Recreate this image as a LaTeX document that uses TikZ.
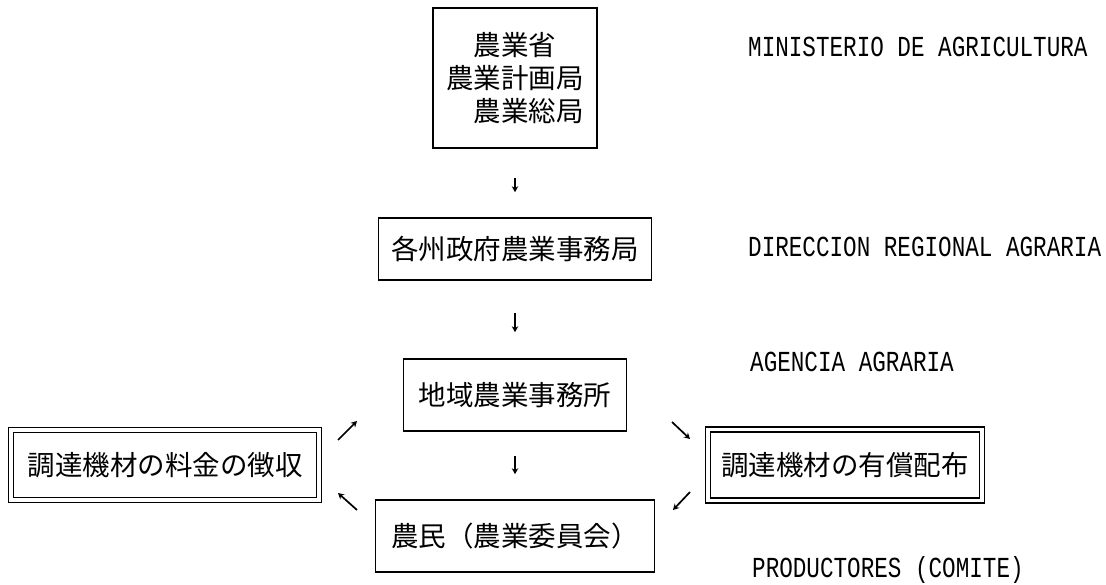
\documentclass[tikz,border=0pt]{standalone}
\usepackage{fontspec}
\newfontfamily\cjk{Noto Sans CJK JP}
\newfontfamily\lat[FakeStretch=0.78]{Liberation Mono}
\usetikzlibrary{arrows.meta}
\begin{document}
\begin{tikzpicture}[x=1pt,y=-1pt,
  cjkfont/.style={font=\cjk\fontsize{27.5}{33}\selectfont},
  box/.style={draw, line width=1.6pt, inner sep=0pt, cjkfont},
  dbox/.style={draw, double, double distance=3.5pt, line width=1.3pt, inner sep=0pt, cjkfont},
  lab/.style={anchor=west, inner sep=0pt, font=\lat\fontsize{29}{32}\selectfont},
  arr/.style={-{Stealth[length=6pt,width=6.5pt]}, line width=1.7pt}]
\useasboundingbox (0,0) rectangle (1106,585);
\fill[white] (0,0) rectangle (1106,585);

% column boxes
\node[box, minimum width=164pt, minimum height=140pt, align=right] (top) at (515,78)
  {農業省\hspace*{1em}\\農業計画局\\農業総局};
\node[box, minimum width=273pt, minimum height=62pt] (prov) at (515,249) {各州政府農業事務局};
\node[box, minimum width=223pt, minimum height=72pt] (local) at (515,395) {地域農業事務所};
\node[box, minimum width=279pt, minimum height=72pt] (farm) at (515,536) {農民（農業委員会）};

% side boxes
\node[dbox, minimum width=308pt, minimum height=70pt] (fee) at (165,465) {調達機材の料金の徴収};
\node[dbox, minimum width=274pt, minimum height=71pt] (dist) at (845,465) {調達機材の有償配布};

% labels
\node[lab] (l1) at (748,47) {MINISTERIO DE AGRICULTURA};
\node[lab] (l2) at (748,247) {DIRECCION REGIONAL AGRARIA};
\node[lab] (l3) at (750,362) {AGENCIA AGRARIA};
\node[lab] (l4) at (752,570) {PRODUCTORES (COMITE)};

% vertical arrows
\draw[arr, shorten <=29pt, shorten >=25pt] (top) -- (prov);
\draw[arr, shorten <=32pt, shorten >=26pt] (prov) -- (local);
\draw[arr, shorten <=24pt, shorten >=25pt] (local) -- (farm);

% cycle arrows
\coordinate (ula) at (338,440); \coordinate (ulb) at (357,421);
\coordinate (lla) at (357,510); \coordinate (llb) at (338,493);
\coordinate (ura) at (672,422); \coordinate (urb) at (690,439);
\coordinate (lra) at (690,492); \coordinate (lrb) at (673,510);
\draw[arr] (ula) -- (ulb);
\draw[arr] (lla) -- (llb);
\draw[arr] (ura) -- (urb);
\draw[arr] (lra) -- (lrb);
\end{tikzpicture}
\end{document}
